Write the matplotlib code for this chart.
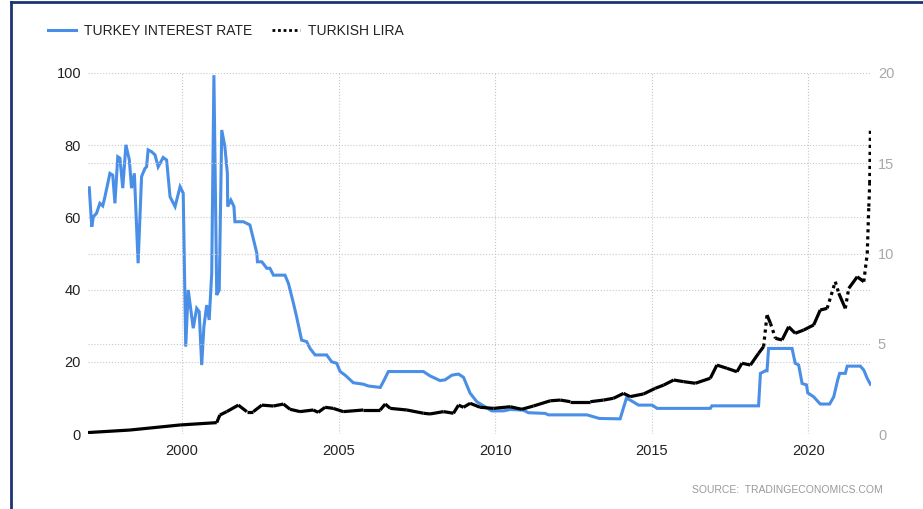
import numpy as np
import matplotlib
matplotlib.use("Agg")
import matplotlib.pyplot as plt
from matplotlib.collections import LineCollection
from matplotlib.lines import Line2D

plt.rcParams['font.family'] = ['Liberation Sans', 'DejaVu Sans']

# interest rate (%)
rate_year = [1997.04, 1997.12, 1997.17, 1997.27, 1997.38, 1997.47, 1997.54, 1997.70, 1997.79, 1997.86,
             1997.95, 1998.02, 1998.11, 1998.21, 1998.32, 1998.39, 1998.48, 1998.60, 1998.71, 1998.82,
             1998.87, 1998.92, 1999.03, 1999.14, 1999.24, 1999.40, 1999.51, 1999.62, 1999.78, 1999.94,
             2000.04, 2000.12, 2000.20, 2000.36, 2000.47, 2000.55, 2000.63, 2000.70, 2000.79, 2000.87,
             2000.95, 2001.02, 2001.11, 2001.19, 2001.27, 2001.37, 2001.45, 2001.46, 2001.56, 2001.66,
             2001.69, 2001.96, 2002.17, 2002.39, 2002.41, 2002.55, 2002.71, 2002.81, 2002.92, 2003.29,
             2003.40, 2003.56, 2003.66, 2003.82, 2003.98, 2004.09, 2004.25, 2004.62, 2004.78, 2004.94,
             2005.05, 2005.21, 2005.47, 2005.79, 2005.95, 2006.33, 2006.43, 2006.59, 2007.71, 2007.92,
             2008.24, 2008.40, 2008.62, 2008.83, 2008.99, 2009.20, 2009.42, 2009.63, 2009.89, 2010.27,
             2010.48, 2010.90, 2011.06, 2011.60, 2011.70, 2012.93, 2013.33, 2013.99, 2014.19, 2014.31,
             2014.58, 2015.01, 2015.17, 2016.87, 2016.92, 2018.41, 2018.47, 2018.63, 2018.68, 2018.73,
             2019.48, 2019.58, 2019.69, 2019.80, 2019.94, 2019.98, 2020.17, 2020.38, 2020.68, 2020.81,
             2020.94, 2021.00, 2021.18, 2021.24, 2021.66, 2021.77, 2021.88, 2021.98]
rate = [68.2, 57.4, 60.2, 61.1, 63.9, 63.2, 65.7, 72.2, 71.7, 63.9,
        76.8, 76.4, 68.1, 80.1, 75.9, 68.1, 72.2, 47.3, 71.3, 73.6,
        74.0, 78.7, 78.2, 77.3, 74.0, 76.6, 75.9, 65.7, 63.0, 68.5,
        66.7, 24.2, 39.9, 29.3, 34.8, 33.9, 19.1, 29.7, 35.7, 31.6,
        44.5, 99.4, 38.5, 39.9, 84.2, 79.6, 72.2, 63.0, 64.8, 63.0,
        58.8, 58.8, 57.9, 50.1, 47.7, 47.7, 45.9, 45.9, 44.0, 44.0,
        41.7, 36.2, 32.5, 26.0, 25.6, 23.7, 21.9, 21.9, 20.0, 19.6,
        17.3, 16.3, 14.2, 13.8, 13.3, 12.9, 14.5, 17.3, 17.3, 16.1,
        14.8, 15.0, 16.3, 16.6, 15.7, 11.3, 8.9, 7.8, 6.4, 6.4,
        6.8, 6.6, 5.9, 5.7, 5.3, 5.3, 4.3, 4.2, 9.9, 9.4,
        8.0, 8.0, 7.1, 7.1, 7.8, 7.8, 16.8, 17.5, 17.5, 23.7,
        23.7, 19.6, 19.1, 14.0, 13.6, 11.4, 10.3, 8.3, 8.3, 10.3,
        15.1, 16.8, 16.8, 18.8, 18.8, 17.7, 15.4, 13.8]

# lira per usd, right axis
lira_year = [1997.00, 1998.34, 1999.94, 2001.11, 2001.21, 2001.43, 2001.80, 2002.07, 2002.28, 2002.55,
             2002.92, 2003.24, 2003.45, 2003.77, 2004.19, 2004.35, 2004.57, 2004.83, 2005.15, 2005.79,
             2006.33, 2006.49, 2006.65, 2007.18, 2007.71, 2007.92, 2008.35, 2008.67, 2008.83, 2008.99,
             2009.20, 2009.52, 2009.95, 2010.48, 2010.85, 2011.22, 2011.76, 2012.08, 2012.40, 2013.04,
             2013.46, 2013.78, 2014.10, 2014.31, 2014.74, 2015.11, 2015.38, 2015.70, 2016.02, 2016.39,
             2016.87, 2017.08, 2017.40, 2017.72, 2017.88, 2018.15, 2018.41, 2018.57, 2018.68, 2018.79,
             2018.95, 2019.16, 2019.37, 2019.58, 2019.85, 2020.17, 2020.38, 2020.60, 2020.86, 2020.97,
             2021.18, 2021.29, 2021.56, 2021.77, 2021.88, 2021.93, 2021.96, 2021.98]
lira = [0.08, 0.22, 0.50, 0.63, 1.05, 1.24, 1.60, 1.24, 1.24, 1.60,
        1.55, 1.66, 1.37, 1.24, 1.33, 1.20, 1.48, 1.42, 1.24, 1.33,
        1.33, 1.66, 1.42, 1.33, 1.15, 1.11, 1.24, 1.15, 1.60, 1.48,
        1.70, 1.48, 1.42, 1.51, 1.37, 1.55, 1.84, 1.88, 1.79, 1.79,
        1.88, 1.98, 2.25, 2.07, 2.22, 2.53, 2.71, 2.99, 2.90, 2.81,
        3.09, 3.82, 3.64, 3.45, 3.92, 3.82, 4.47, 4.84, 6.59, 6.13,
        5.30, 5.21, 5.94, 5.58, 5.76, 6.04, 6.87, 6.96, 8.44, 7.80,
        6.96, 8.07, 8.71, 8.44, 10.0, 12.6, 13.9, 16.8]

xticks = [2000, 2005, 2010, 2015, 2020]
blue = '#4a8fe7'

fig = plt.figure(figsize=(9.23, 5.09), dpi=100)
ax = fig.add_axes([88 / 923, 1 - 434 / 509, (871 - 88) / 923, (434 - 73) / 509])
ax2 = ax.twinx()

ax.set_xlim(1997.0, 2022.0)
ax.set_ylim(0, 100)
ax2.set_ylim(0, 20)

# grid: every 20 on the left, every 5 on the right
for v in [0, 20, 40, 60, 80, 100]:
    ax.axhline(v, color='#c8c8c8', lw=0.8, ls=':', zorder=0)
for v in [5, 10, 15]:
    ax2.axhline(v, color='#c8c8c8', lw=0.8, ls=':', zorder=0)
for x in xticks:
    ax.axvline(x, color='#c8c8c8', lw=0.8, ls=':', zorder=0)

ax.plot(rate_year, rate, color=blue, lw=2.2, zorder=3, solid_joinstyle='miter')

# lira: solid where it moves slowly, dotted on steep stretches
ly = np.array(lira_year)
lv = np.array(lira)
segs = np.stack([np.column_stack([ly[:-1], lv[:-1]]), np.column_stack([ly[1:], lv[1:]])], axis=1)
slope = np.abs(np.diff(lv) / np.diff(ly))
styles = [(0, (1, 1.2)) if s > 5 else 'solid' for s in slope]
lc = LineCollection(segs, colors='black', linewidths=2.3, linestyles=styles, zorder=4)
ax2.add_collection(lc)

for a in (ax, ax2):
    for s in a.spines.values():
        s.set_visible(False)
ax.set_xticks(xticks)
ax.set_xticklabels([str(x) for x in xticks])
ax.set_yticks([0, 20, 40, 60, 80, 100])
ax2.set_yticks([0, 5, 10, 15, 20])
ax.tick_params(axis='both', length=0, labelsize=10.5, colors='#222222', pad=5)
ax.tick_params(axis='x', pad=7)
ax2.tick_params(axis='y', length=0, labelsize=10.5, labelcolor='#a8a8a8', pad=5)

handles = [Line2D([], [], color=blue, lw=2.2),
           Line2D([], [], color='black', lw=2, ls=(0, (1, 1)))]
fig.legend(handles, ['TURKEY INTEREST RATE', 'TURKISH LIRA'], loc='center left',
           bbox_to_anchor=(48 / 923, 1 - 31 / 509), ncol=2, frameon=False,
           fontsize=10, handlelength=2.0, handletextpad=0.6, columnspacing=1.4,
           labelcolor='#222222', borderaxespad=0, borderpad=0)

fig.text(883 / 923, 1 - 490 / 509, 'SOURCE:  TRADINGECONOMICS.COM', ha='right', va='center',
         fontsize=7.5, color='#999999')

# navy frame on left and top
fig.add_artist(Line2D([11 / 923, 11 / 923], [0, 1 - 2 / 509], transform=fig.transFigure,
                      color='#1c3475', lw=2))
fig.add_artist(Line2D([11 / 923, 1], [1 - 2 / 509, 1 - 2 / 509], transform=fig.transFigure,
                      color='#1c3475', lw=2))

fig.savefig('out.png', dpi=100)
